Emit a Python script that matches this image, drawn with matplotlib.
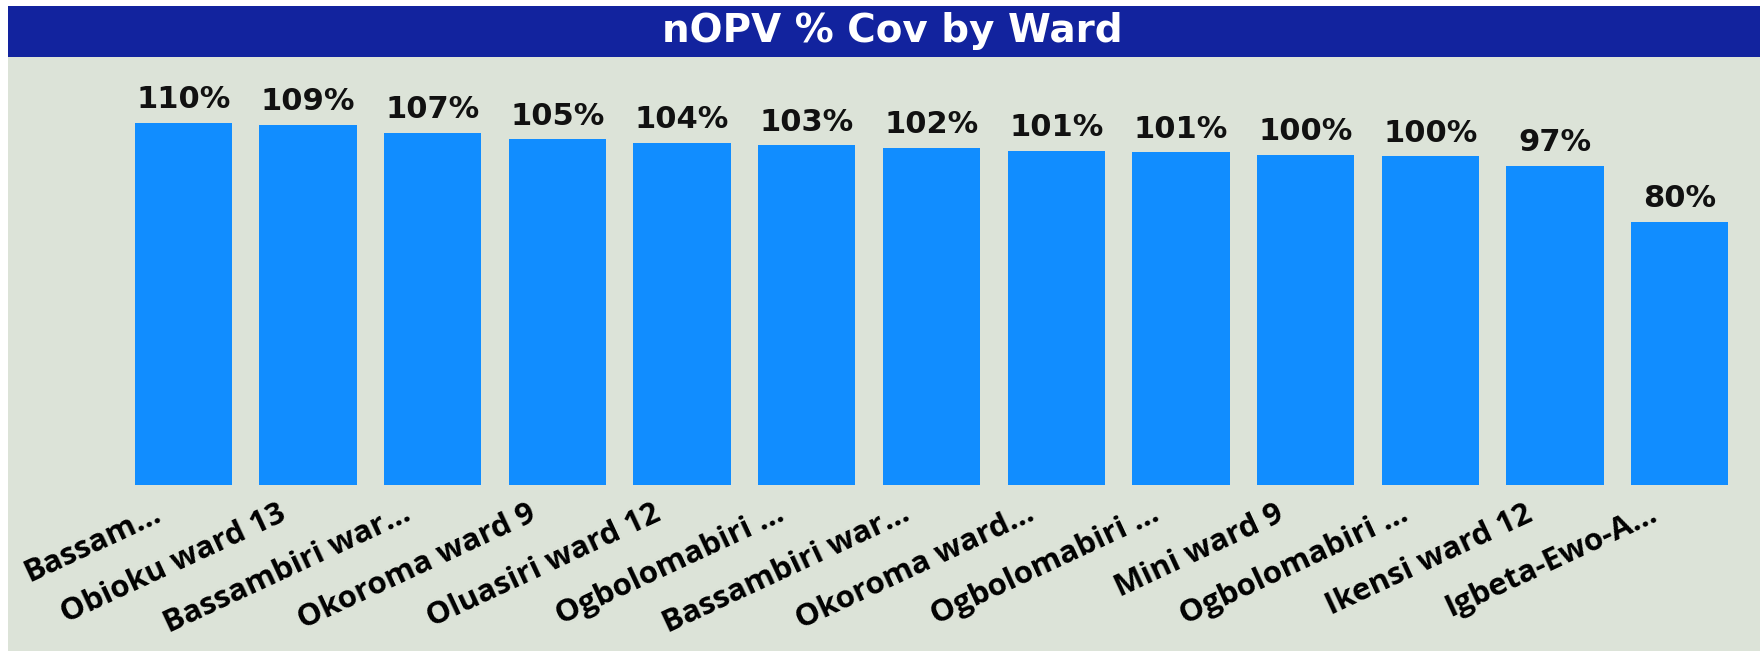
import numpy as np
import matplotlib.pyplot as plt
from matplotlib.patches import Rectangle
from matplotlib.transforms import ScaledTranslation

# data
wards = ["Bassam...", "Obioku ward 13", "Bassambiri war...", "Okoroma ward 9",
         "Oluasiri ward 12", "Ogbolomabiri ...", "Bassambiri war...", "Okoroma ward...",
         "Ogbolomabiri ...", "Mini ward 9", "Ogbolomabiri ...", "Ikensi ward 12",
         "Igbeta-Ewo-A..."]
cov = [110.0, 109.3, 106.9, 104.9, 103.9, 103.2, 102.4, 101.4, 101.0, 100.2, 99.8, 97.0, 79.9]

bg = "#dce3d8"
bar_col = "#118dff"
title_col = "#12239e"

W, H = 1760, 651
fig = plt.figure(figsize=(W / 100, H / 100), dpi=100)
fig.patch.set_facecolor("white")

# panel background + title strip
fig.patches.append(Rectangle((8 / W, 0), 1 - 8 / W, 1 - 6 / H, transform=fig.transFigure,
                             facecolor=bg, edgecolor="none", zorder=-3))
fig.patches.append(Rectangle((8 / W, 1 - 57 / H), 1 - 8 / W, 51 / H, transform=fig.transFigure,
                             facecolor=title_col, edgecolor="none", zorder=-2))
fig.text(0.507, 1 - 31 / H, "nOPV % Cov by Ward", color="white", fontsize=28,
         fontweight="bold", ha="center", va="center", family="DejaVu Sans")

ax = fig.add_axes([121 / W, (H - 485) / H, (1742 - 121) / W, (485 - 70) / H])
ax.set_facecolor("none")
x = np.arange(len(wards))
bars = ax.bar(x, cov, width=0.78, color=bar_col)
ax.set_xlim(-0.5, len(wards) - 0.5)
ax.set_ylim(0, 126)

for xi, v in zip(x, cov):
    ax.text(xi, v + 2.6, f"{round(v):.0f}%", ha="center", va="bottom",
            fontsize=22, fontweight="bold", color="#111111", family="DejaVu Sans")

ax.set_xticks(x)
ax.set_xticklabels(wards, rotation=25, ha="right", rotation_mode="anchor",
                   fontsize=22.5, fontweight="bold", family="Open Sans")
ax.tick_params(axis="x", length=0, pad=10)
shift = ScaledTranslation(-30 / 100, 0, fig.dpi_scale_trans)
for lab in ax.get_xticklabels():
    lab.set_transform(lab.get_transform() + shift)
ax.set_yticks([])
for s in ax.spines.values():
    s.set_visible(False)

fig.savefig("out.png", dpi=100, facecolor=fig.get_facecolor())
